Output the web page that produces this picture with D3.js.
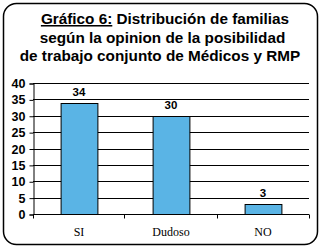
<!DOCTYPE html>
<html lang="es">
<head>
<meta charset="utf-8">
<style>
  body { margin: 0; background: #fff; }
</style>
</head>
<body>
<script src="https://d3js.org/d3.v7.min.js"></script>
<script>
const categories = ["SI", "Dudoso", "NO"];
const values = [34, 30, 3];
const yTicks = [0, 5, 10, 15, 20, 25, 30, 35, 40];
const titleLines = ["Distribución de familias", "según la opinion de la posibilidad", "de trabajo conjunto de Médicos y RMP"];

const width = 321, height = 248;
const svg = d3.select("body").append("svg")
    .attr("width", width)
    .attr("height", height);

svg.append("rect")
    .attr("x", 3.5).attr("y", 3.5)
    .attr("width", 314).attr("height", 241)
    .attr("rx", 13).attr("ry", 13)
    .attr("fill", "#fff")
    .attr("stroke", "#000")
    .attr("stroke-width", 1.5);

// title
const title = svg.append("text")
    .attr("text-anchor", "middle")
    .attr("font-family", "Liberation Sans, Arial, sans-serif")
    .attr("font-weight", "bold")
    .attr("font-size", 15.3);
const l1 = title.append("tspan").attr("x", 165).attr("y", 24);
l1.append("tspan").attr("text-decoration", "underline").text("Gráfico 6:");
l1.append("tspan").text(" " + titleLines[0]);
title.append("tspan").attr("x", 162.5).attr("y", 42.5).text(titleLines[1]);
title.append("tspan").attr("x", 160).attr("y", 61).text(titleLines[2]);

const x = d3.scaleBand()
    .domain(categories)
    .range([33, 309])
    .paddingInner(0.6)
    .paddingOuter(0.3);

const y = d3.scaleLinear()
    .domain([0, 40])
    .range([214, 83]);

// gridlines
svg.append("g")
    .selectAll("line")
    .data(yTicks.filter(d => d > 0))
    .enter().append("line")
    .attr("x1", 33).attr("x2", 309)
    .attr("y1", d => Math.round(y(d)) + 0.5)
    .attr("y2", d => Math.round(y(d)) + 0.5)
    .attr("stroke", "#000");

// y axis
const yAxis = d3.axisLeft(y).tickValues(yTicks).tickSize(4).tickPadding(4);
const gy = svg.append("g")
    .attr("transform", "translate(33.5,0.5)")
    .call(yAxis);
gy.select(".domain").attr("stroke", "#000");
gy.selectAll("text")
    .attr("font-family", "Liberation Sans, Arial, sans-serif")
    .attr("font-weight", "bold")
    .attr("font-size", 12.5)
    .attr("fill", "#000");

// bars
svg.append("g")
    .selectAll("rect")
    .data(values)
    .enter().append("rect")
    .attr("x", (d, i) => x(categories[i]) + 0.5)
    .attr("y", d => Math.round(y(d)) + 0.5)
    .attr("width", x.bandwidth())
    .attr("height", d => Math.round(y(0)) - Math.round(y(d)))
    .attr("fill", "#5ab4e5")
    .attr("stroke", "#000")
    .attr("stroke-width", 1);

// value labels
svg.append("g")
    .selectAll("text")
    .data(values)
    .enter().append("text")
    .attr("x", (d, i) => x(categories[i]) + x.bandwidth() / 2)
    .attr("y", d => y(d) - 7)
    .attr("text-anchor", "middle")
    .attr("font-family", "Liberation Sans, Arial, sans-serif")
    .attr("font-weight", "bold")
    .attr("font-size", 11.5)
    .text(d => d);

// x axis
const xEdges = d3.scaleOrdinal().domain([0, 1, 2, 3]).range([33, 124, 217, 309]);
const gx = svg.append("g").attr("transform", "translate(0," + (Math.round(y(0)) + 0.5) + ")");
gx.append("line").attr("x1", 33).attr("x2", 309).attr("stroke", "#000");
gx.selectAll(".tk")
    .data([0, 1, 2, 3])
    .enter().append("line")
    .attr("x1", d => xEdges(d) + 0.5).attr("x2", d => xEdges(d) + 0.5)
    .attr("y1", 0).attr("y2", 4)
    .attr("stroke", "#000");
gx.selectAll("text")
    .data(categories)
    .enter().append("text")
    .attr("x", d => x(d) + x.bandwidth() / 2)
    .attr("y", 21)
    .attr("text-anchor", "middle")
    .attr("font-family", "Liberation Serif, Times New Roman, serif")
    .attr("font-size", 12)
    .text(d => d);
</script>
</body>
</html>
